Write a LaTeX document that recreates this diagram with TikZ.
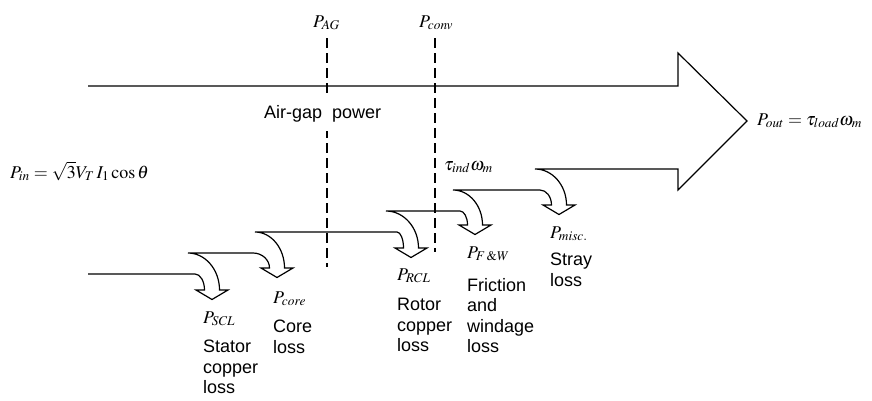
\documentclass[tikz,border=0pt]{standalone}
\usepackage{mathptmx}
\usepackage[no-math]{fontspec}
\setmainfont{Liberation Sans}

\begin{document}
\begin{tikzpicture}[x=1pt,y=-1pt,
    flow/.style={line width=1.2pt,line join=miter},
    cut/.style={line width=2.5pt,dash pattern=on 10pt off 5pt},
    lbl/.style={inner sep=0pt,font=\fontsize{18}{20.5}\selectfont},
    note/.style={lbl,align=left,anchor=north west}]
  \fill[white] (0,0) rectangle (872,400);
  % dashed boundaries
  \coordinate (agtop) at (327,38);
  \coordinate (agbot) at (327,267);
  \coordinate (cvtop) at (435,38);
  \coordinate (cvbot) at (435,252);
  \draw[cut] (agtop) -- (agbot);
  \draw[cut] (cvtop) -- (cvbot);
  % power flow, losses peel off at the bottom
  \draw[flow] (88,86) -- (678,86) -- (678,53) -- (747,121) -- (678,190) -- (678,169)
    \foreach \xu/\yu/\cx/\yh/\xl/\yl in {535/169/559/205/540/190, 453/190/475/225/460/211,
        386/211/411/248/397/232, 255/232/277/268/253/253, 188/253/212/290/195/274} {
      -- (\xu,\yu) .. controls +({0.55*(\cx+7.5-\xu)},0) and +(0,{-0.55*(\yh-\yu)}) .. (\cx+7.5,\yh)
      -- (\cx+16,\yh) -- (\cx,\yh+9.5) -- (\cx-16,\yh) -- (\cx-7.5,\yh)
      .. controls +(0,{-0.55*(\yh-\yl)}) and +({0.55*(\cx-7.5-\xl)},0) .. (\xl,\yl)
    } -- (88,274);
  \node[lbl,anchor=base west] (pag) at (313,27) {$P_{AG}$};
  \node[lbl,anchor=base west] (pconv) at (419,27) {$P_{conv}$};
  \node[lbl,anchor=base west,fill=white,inner xsep=1pt,inner ysep=9pt] (airgap) at (263,118) {Air-gap~ power};
  \node[lbl,anchor=base west] (pin) at (10,178) {$P_{in}=\sqrt{3}V_T\,I_1\cos\theta$};
  \node[lbl,anchor=base west] (torque) at (444,170) {$\tau_{ind}\omega_m$};
  \node[lbl,anchor=base west] (pout) at (757,125) {$P_{out}=\tau_{load}\omega_m$};
  % loss labels
  \foreach \nm/\sub/\x/\y/\ty/\txt in {SCL/SCL/203/323/353/{Stator\\copper\\loss},
      core/core/273/303/333/{Core\\loss}, RCL/RCL/397/280/311/{Rotor\\copper\\loss},
      FW/{F\,\&W}/467/258/291/{Friction\\and\\windage\\loss}, misc/{misc.}/550/238/266/{Stray\\loss}} {
    \node[lbl,anchor=base west] (p\nm) at (\x,\y) {$P_{\sub}$};
    \node[note] (t\nm) at (\x,\ty-13) {\txt};
  }
\end{tikzpicture}
\end{document}
